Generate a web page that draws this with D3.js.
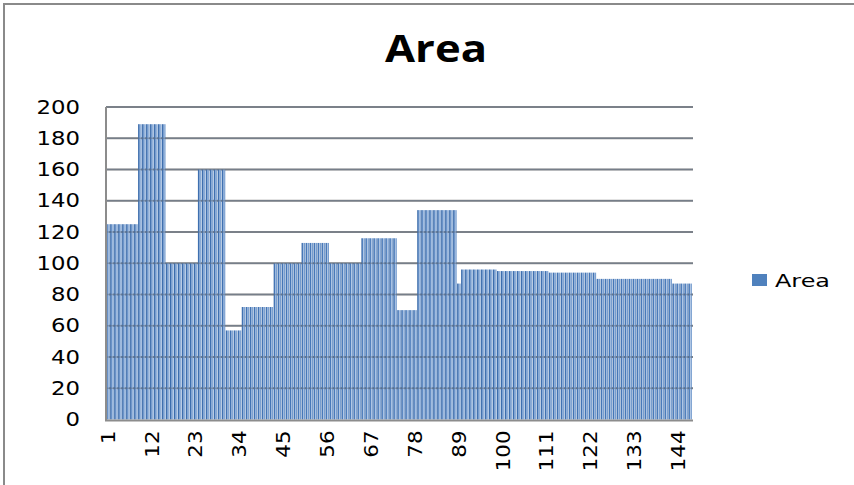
<!DOCTYPE html>
<html>
<head>
<meta charset="utf-8">
<script src="https://cdn.jsdelivr.net/npm/d3@7"></script>
<style>
  html, body { margin: 0; padding: 0; background: #fff; }
  svg { display: block; }
</style>
</head>
<body>
<svg id="chart" width="854" height="485"></svg>
<script>
// Area values, stored as runs of equal values: [value, count]
const runValues = [125, 189, 100, 160, 57, 72, 100, 113, 100, 116, 70, 134, 87, 96, 95, 94, 90, 87];
const runCounts = [8, 7, 8, 7, 4, 8, 7, 7, 8, 9, 5, 10, 1, 9, 13, 12, 19, 5];
const yTicks = [0, 20, 40, 60, 80, 100, 120, 140, 160, 180, 200];
const xTickLabels = [1, 12, 23, 34, 45, 56, 67, 78, 89, 100, 111, 122, 133, 144];
const seriesName = "Area";
const chartTitle = "Area";

// expand the runs into one value per record
const areaValues = [];
runValues.forEach((v, i) => { for (let k = 0; k < runCounts[i]; k++) areaValues.push(v); });
const records = areaValues.map((v, i) => ({ id: i + 1, value: v }));

const svg = d3.select("#chart");
const plot = { left: 106, right: 692, top: 107, bottom: 419.5 };

// outer chart frame
svg.append("rect")
  .attr("x", 4).attr("y", 4).attr("width", 900).attr("height", 520)
  .attr("fill", "#fff").attr("stroke", "#8a8a8a").attr("stroke-width", 2);

const x = d3.scaleBand()
  .domain(records.map(d => d.id))
  .range([plot.left, plot.right])
  .paddingInner(0.15).paddingOuter(0.05);

const y = d3.scaleLinear().domain([0, 200]).range([plot.bottom, plot.top]);

// bar shading
const defs = svg.append("defs");
const grad = defs.append("linearGradient").attr("id", "barGrad")
  .attr("x1", "0%").attr("x2", "100%").attr("y1", "0%").attr("y2", "0%");
grad.append("stop").attr("offset", "0%").attr("stop-color", "#2e5f9f");
grad.append("stop").attr("offset", "30%").attr("stop-color", "#4a7bbb");
grad.append("stop").attr("offset", "60%").attr("stop-color", "#b3c9e6");
grad.append("stop").attr("offset", "100%").attr("stop-color", "#4f80bf");

// horizontal gridlines
svg.append("g").selectAll("line")
  .data(yTicks.filter(t => t > 0))
  .join("line")
  .attr("x1", plot.left).attr("x2", plot.right + 1)
  .attr("y1", d => y(d)).attr("y2", d => y(d))
  .attr("stroke", "#8c8c8c").attr("stroke-width", 2);

// bars
svg.append("g").selectAll("rect")
  .data(records)
  .join("rect")
  .attr("x", d => x(d.id))
  .attr("y", d => y(d.value))
  .attr("width", x.bandwidth())
  .attr("height", d => y(0) - y(d.value))
  .attr("fill", "url(#barGrad)");

// gridlines drawn faintly over bars
svg.append("g").selectAll("line")
  .data(yTicks.filter(t => t > 0))
  .join("line")
  .attr("x1", plot.left).attr("x2", plot.right + 1)
  .attr("y1", d => y(d)).attr("y2", d => y(d))
  .attr("stroke", "#5f6f85").attr("stroke-width", 1.5).attr("stroke-opacity", 0.5);

// axis lines
svg.append("line")
  .attr("x1", plot.left).attr("x2", plot.left)
  .attr("y1", plot.top).attr("y2", plot.bottom + 1)
  .attr("stroke", "#8c8c8c").attr("stroke-width", 2);
svg.append("line")
  .attr("x1", plot.left - 1).attr("x2", plot.right + 1)
  .attr("y1", plot.bottom + 1).attr("y2", plot.bottom + 1)
  .attr("stroke", "#8c8c8c").attr("stroke-width", 2);

// y axis labels
const yAxis = d3.axisLeft(y).tickValues(yTicks).tickSize(0).tickPadding(26);
const gy = svg.append("g").attr("transform", `translate(${plot.left},0)`).call(yAxis);
gy.select(".domain").remove();
gy.selectAll("text")
  .attr("font-family", "DejaVu Sans, sans-serif")
  .attr("font-size", 19)
  .attr("fill", "#000")
  .attr("textLength", d => String(d).length * 14.5)
  .attr("lengthAdjust", "spacingAndGlyphs");

// x axis labels (rotated)
const xAxis = d3.axisBottom(x).tickValues(xTickLabels).tickSize(0).tickPadding(0);
const gx = svg.append("g").attr("transform", `translate(0,${plot.bottom})`).call(xAxis);
gx.select(".domain").remove();
gx.selectAll("text")
  .attr("font-family", "DejaVu Sans, sans-serif")
  .attr("font-size", 19)
  .attr("fill", "#000")
  .attr("text-anchor", "end")
  .attr("dy", "0.36em")
  .attr("transform", "translate(0,11) rotate(-90)")
  .attr("x", 0).attr("y", 0)
  .attr("textLength", d => String(d).length * 13.6)
  .attr("lengthAdjust", "spacingAndGlyphs");

// title
svg.append("text")
  .attr("x", 436).attr("y", 62)
  .attr("text-anchor", "middle")
  .attr("font-family", "Open Sans, sans-serif")
  .attr("font-weight", "bold")
  .attr("font-size", 37)
  .attr("textLength", 102).attr("lengthAdjust", "spacingAndGlyphs")
  .attr("fill", "#000")
  .text(chartTitle);

// legend
const lg = svg.append("g");
lg.append("rect")
  .attr("x", 752).attr("y", 274).attr("width", 15).attr("height", 12)
  .attr("fill", "#4f81bd");
lg.append("text")
  .attr("x", 775).attr("y", 287)
  .attr("font-family", "DejaVu Sans, sans-serif")
  .attr("font-size", 18)
  .attr("textLength", 55).attr("lengthAdjust", "spacingAndGlyphs")
  .attr("fill", "#000")
  .text(seriesName);
</script>
</body>
</html>
